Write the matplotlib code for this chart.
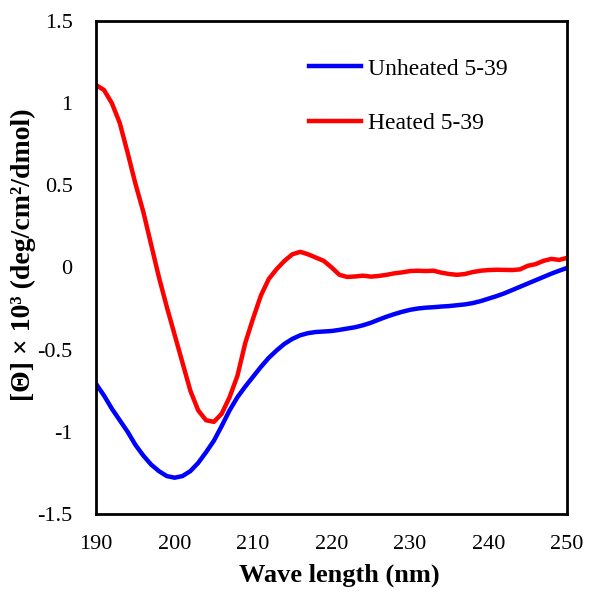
import numpy as np
import matplotlib
matplotlib.use("Agg")
import matplotlib.pyplot as plt

plt.rcParams['font.family'] = ['Liberation Serif', 'DejaVu Serif']

wavelength = np.arange(190, 251)

unheated = [
    -0.71, -0.78, -0.86, -0.93, -1.00, -1.08, -1.145, -1.20, -1.24, -1.27,
    -1.28, -1.27, -1.24, -1.19, -1.125, -1.055, -0.965, -0.87, -0.79, -0.725,
    -0.665, -0.605, -0.55, -0.505, -0.465, -0.435, -0.413, -0.40, -0.393, -0.39,
    -0.387, -0.38, -0.372, -0.364, -0.352, -0.337, -0.318, -0.30, -0.284, -0.27,
    -0.258, -0.25, -0.245, -0.242, -0.238, -0.235, -0.23, -0.225, -0.217, -0.205,
    -0.19, -0.175, -0.158, -0.138, -0.118, -0.098, -0.078, -0.058, -0.038, -0.02,
    -0.003,
]

heated = [
    1.11, 1.08, 1.00, 0.88, 0.70, 0.51, 0.34, 0.14, -0.06, -0.24,
    -0.41, -0.58, -0.75, -0.87, -0.93, -0.94, -0.89, -0.79, -0.66, -0.46,
    -0.31, -0.17, -0.07, -0.01, 0.04, 0.08, 0.095, 0.08, 0.06, 0.04,
    0.0, -0.045, -0.058, -0.055, -0.05, -0.056, -0.052, -0.045, -0.036, -0.03,
    -0.022, -0.02, -0.022, -0.02, -0.032, -0.04, -0.045, -0.04, -0.028, -0.02,
    -0.016, -0.014, -0.015, -0.016, -0.012, 0.01, 0.02, 0.04, 0.052, 0.046,
    0.058,
]

x_ticks = [190, 200, 210, 220, 230, 240, 250]
y_ticks = [-1.5, -1, -0.5, 0, 0.5, 1, 1.5]
y_tick_labels = ['-1.5', '-1', '-0.5', '0', '0.5', '1', '1.5']

fig = plt.figure(figsize=(5.9, 5.92), dpi=100)
ax = fig.add_axes([0.163, 0.132, 0.798, 0.8325])

ax.plot(wavelength, unheated, color='#0000ff', lw=3.2, label='Unheated 5-39')
ax.plot(wavelength, heated, color='#ff0000', lw=3.2, label='Heated 5-39')

ax.set_xlim(190, 250)
ax.set_ylim(-1.5, 1.5)
ax.set_xticks(x_ticks)
ax.set_yticks(y_ticks)
ax.set_yticklabels(y_tick_labels)
ax.tick_params(length=0, labelsize=16)
ax.tick_params(axis='y', pad=17)
ax.tick_params(axis='x', pad=15)

for s in ax.spines.values():
    s.set_linewidth(2)
    s.set_color('black')

ax.set_xlabel('Wave length (nm)', fontsize=19, fontweight='bold')
ax.xaxis.set_label_coords(0.516, -0.100)
ax.set_ylabel('[\u0398] \u00d7 10\u00b3 (deg/cm\u00b2/dmol)', fontsize=20,
              fontweight='bold')
ax.yaxis.set_label_coords(-0.127, 0.525)

ax.legend(loc='upper left', bbox_to_anchor=(0.406, 0.968), frameon=False,
          fontsize=17, handlelength=2.2, handletextpad=0.3, labelspacing=1.4)

fig.savefig('out.png', dpi=100)
